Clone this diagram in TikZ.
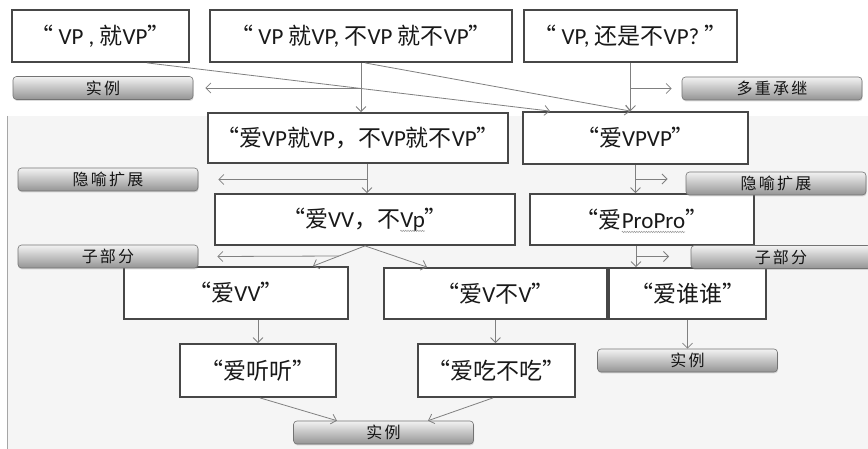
\documentclass[tikz,border=0pt]{standalone}
\usepackage{fontspec}
\usetikzlibrary{arrows.meta,shadows,calc,decorations.pathmorphing}
\setmainfont{Carlito}
\newfontfamily\cjk{Noto Sans CJK SC}
\newfontfamily\cjklab[LetterSpace=14]{Noto Sans CJK SC}
\newcommand\zh[1]{{\cjk #1}}
\newsavebox\wavebox
\newcommand\graywave[1]{\sbox\wavebox{#1}\tikz[overlay,x=1pt,y=1pt,baseline=0pt]\draw[black!40,line width=0.5pt,decorate,decoration={zigzag,amplitude=0.7pt,segment length=2.4pt}] (0,-3.5) -- (\the\wd\wavebox,-3.5);\usebox\wavebox}
\tikzset{
  box/.style={draw=black!72, line width=1.8pt, fill=white, inner sep=0pt,
    font=\fontsize{23}{27}\selectfont, text=black!90},
  lab/.style={draw=black!55, line width=0.6pt, rounded corners=3.5pt,
    top color=black!5, bottom color=black!42, minimum width=180pt,
    minimum height=23pt, inner sep=0pt, text=black!92,
    font=\cjklab\fontsize{16}{18}\selectfont,
    drop shadow={shadow xshift=0.6pt, shadow yshift=-1.4pt, opacity=0.28}},
  conn/.style={draw=black!50, line width=0.8pt},
  arr/.style={conn, -{Straight Barb[length=5pt,width=10pt]}},
}
\begin{document}
\begin{tikzpicture}[x=1pt,y=-1pt]
\useasboundingbox (0,0) rectangle (868,449);
\fill[white] (0,0) rectangle (868,449);
\fill[black!4] (7,116) rectangle (868,449);
\draw[black!35, line width=0.8pt] (7,116) -- (7,449);

% main boxes
\node[box, minimum width=177pt, minimum height=52pt] (A) at (100.5,36)
  {\zh{“}\ VP\ ,\ \zh{就}VP\zh{”}};
\node[box, minimum width=302pt, minimum height=52pt] (B) at (361,36)
  {\zh{“}\ VP\ \zh{就}VP,\ \zh{不}VP\ \zh{就不}VP\zh{”}};
\node[box, minimum width=213pt, minimum height=52pt] (C) at (630.5,36)
  {\zh{“}\ VP,\ \zh{还是不}VP?\ \zh{”}};
\node[box, minimum width=300pt, minimum height=50pt] (D) at (358,138)
  {\zh{“爱}VP\zh{就}VP\zh{，不}VP\zh{就不}VP\zh{”}};
\node[box, minimum width=225pt, minimum height=52pt] (E) at (635.5,138)
  {\zh{“爱}VPVP\zh{”}};
\node[box, minimum width=300pt, minimum height=51pt] (F) at (365,219.5)
  {\zh{“爱}VV\zh{，不}\graywave{Vp}\zh{”}};
\node[box, minimum width=224pt, minimum height=51pt] (G) at (642,219.5)
  {\zh{“爱}\graywave{ProPro}\zh{”}};
\node[box, minimum width=224pt, minimum height=52pt] (H) at (236,293)
  {\zh{“爱}VV\zh{”}};
\node[box, minimum width=223pt, minimum height=51pt] (I) at (495.5,293.5)
  {\zh{“爱}V\zh{不}V\zh{”}};
\node[box, minimum width=157pt, minimum height=51pt] (J) at (687.5,293.5)
  {\zh{“爱谁谁”}};
\node[box, minimum width=156pt, minimum height=53pt] (K) at (258,370.5)
  {\zh{“爱听听”}};
\node[box, minimum width=157pt, minimum height=53pt] (L) at (496.5,370.5)
  {\zh{“爱吃不吃”}};

% gray labels
\node[lab] (L1) at (103,88) {实例};
\node[lab] (L2) at (772,88.5) {多重承继};
\node[lab] (L3) at (108,179.5) {隐喻扩展};
\node[lab] (L4) at (776,183.5) {隐喻扩展};
\node[lab] (L5) at (108,256.5) {子部分};
\node[lab] (L6) at (781,257) {子部分};
\node[lab] (L7) at (687.5,360.5) {实例};
\node[lab] (L8) at (383.5,432.5) {实例};

% connectors
\draw[arr] ([xshift=46.5pt]A.south) -- ([xshift=-85.5pt]E.north);
\draw[arr] (B.south) -- (B.south |- D.north);
\draw[arr] (B.south |- L1.east) -- ([xshift=12pt]L1.east);
\draw[arr] ([xshift=4pt]B.south) -- (C.south |- E.north);
\draw[arr] (C.south) -- (C.south |- E.north);
\draw[arr] (C.south |- L2.west) -- ([xshift=-10pt]L2.west);

\coordinate (ds) at ([xshift=9pt]D.south);
\draw[arr] (ds) -- (ds |- F.north);
\draw[arr] (ds |- L3.east) -- ([xshift=20pt]L3.east);

\coordinate (em) at ($(E.south)!0.5!(E.south |- G.north)$);
\draw[arr] (E.south) -- (E.south |- G.north);
\draw[arr] (em) -- ++(32,0);

\coordinate (hn) at ([xshift=77pt]H.north);
\coordinate (fm) at ($(F.south)!0.5!(hn)$);
\draw[arr] (F.south) -- (hn);
\draw[arr] (F.south) -- ([xshift=-68.5pt]I.north);
\draw[arr] (fm) -- ([xshift=19pt]L5.east);

\coordinate (gs) at ([xshift=-6pt]G.south);
\coordinate (gm) at ($(gs)!0.5!(gs |- J.north)$);
\draw[arr] (gs) -- (gs |- J.north);
\draw[arr] (gm) -- ++(33,0);

\draw[arr] (H.south -| K.north) -- (K.north);
\draw[arr] (I.south) -- (I.south |- L.north);
\draw[arr] (J.south) -- (L7.north);
\draw[arr] ([xshift=2pt]K.south) -- ([xshift=-46.5pt]L8.north);
\draw[arr] ([xshift=-3.5pt]L.south) -- ([xshift=44.5pt]L8.north);
\end{tikzpicture}
\end{document}
